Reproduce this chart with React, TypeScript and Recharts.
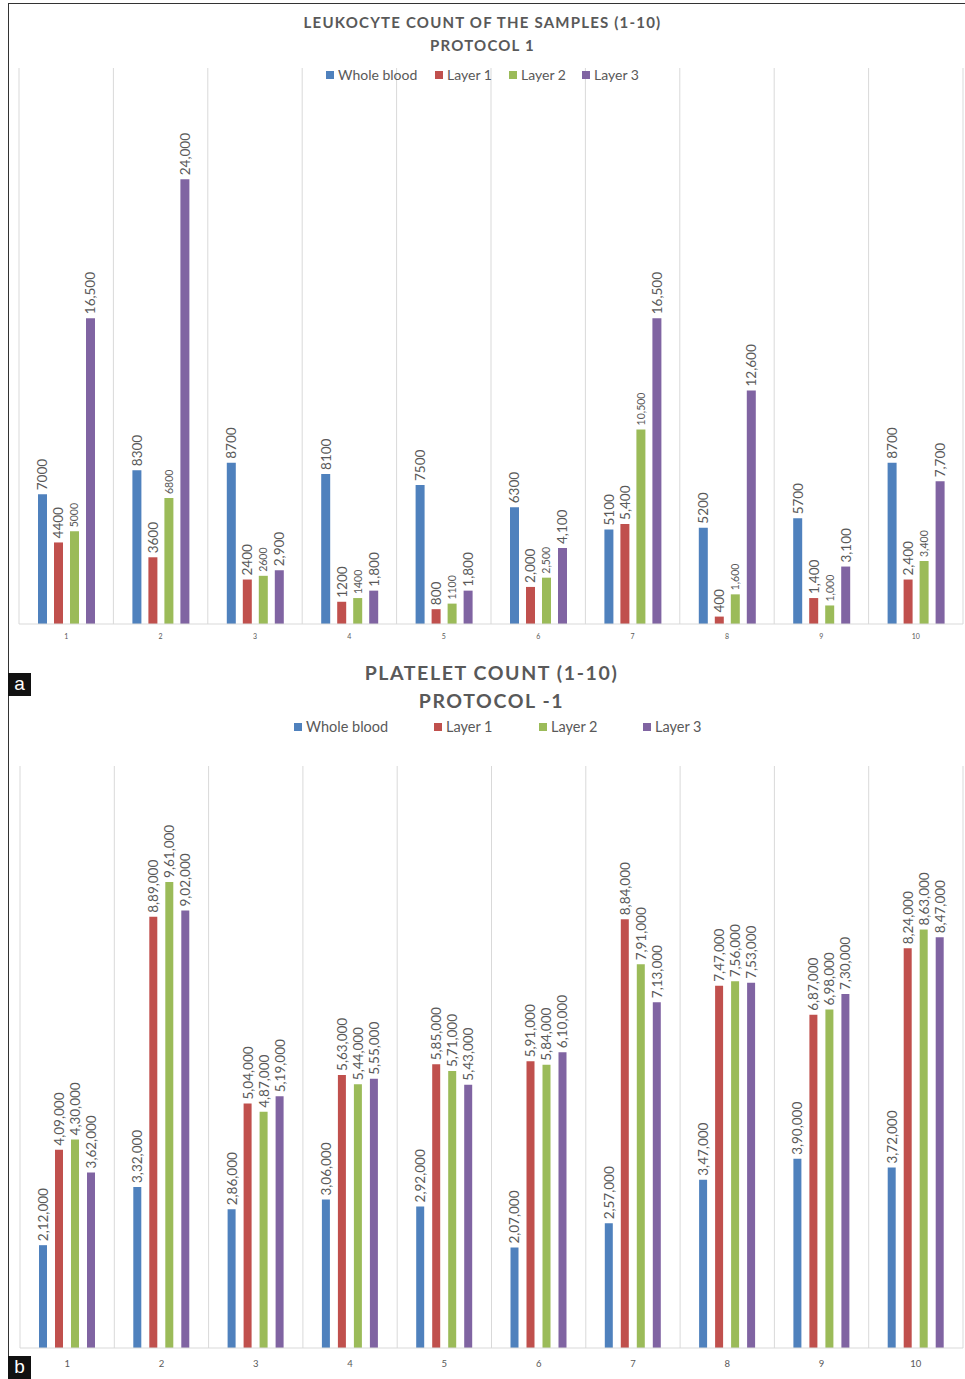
import React from "react";
import { BarChart, Bar, XAxis, YAxis, CartesianGrid, LabelList } from "recharts";

// sample numbers (x axis)
const samples = ["1", "2", "3", "4", "5", "6", "7", "8", "9", "10"];

// leukocyte counts, protocol 1
const wbcWholeBlood = [7000, 8300, 8700, 8100, 7500, 6300, 5100, 5200, 5700, 8700];
const wbcLayer1 = [4400, 3600, 2400, 1200, 800, 2000, 5400, 400, 1400, 2400];
const wbcLayer2 = [5000, 6800, 2600, 1400, 1100, 2500, 10500, 1600, 1000, 3400];
const wbcLayer3 = [16500, 24000, 2900, 1800, 1800, 4100, 16500, 12600, 3100, 7700];

// platelet counts, protocol -1
const pltWholeBlood = [212000, 332000, 286000, 306000, 292000, 207000, 257000, 347000, 390000, 372000];
const pltLayer1 = [409000, 889000, 504000, 563000, 585000, 591000, 884000, 747000, 687000, 824000];
const pltLayer2 = [430000, 961000, 487000, 544000, 571000, 584000, 791000, 756000, 698000, 863000];
const pltLayer3 = [362000, 902000, 519000, 555000, 543000, 610000, 713000, 753000, 730000, 847000];

const seriesNames = ["Whole blood", "Layer 1", "Layer 2", "Layer 3"];
const colors = ["#4F81BD", "#C0504D", "#9BBB59", "#8064A2"];
const keys = ["wholeBlood", "layer1", "layer2", "layer3"];

const FONT = "Lato, 'Open Sans', sans-serif";
const TEXT = "#595959";
const GRID = "#d9d9d9";

const wbcData = samples.map((s, i) => ({
  sample: s,
  wholeBlood: wbcWholeBlood[i],
  layer1: wbcLayer1[i],
  layer2: wbcLayer2[i],
  layer3: wbcLayer3[i],
}));

const pltData = samples.map((s, i) => ({
  sample: s,
  wholeBlood: pltWholeBlood[i],
  layer1: pltLayer1[i],
  layer2: pltLayer2[i],
  layer3: pltLayer3[i],
}));

// the spreadsheet used plain numbers in some cells and thousands separators in others
const wbcPlainUntil = [10, 5, 5, 0];

const withCommas = (n: number) => n.toString().replace(/\B(?=(\d{3})+(?!\d))/g, ",");

// Indian digit grouping: 9,61,000
const indian = (n: number) => {
  const s = n.toString();
  if (s.length <= 3) return s;
  const last3 = s.slice(-3);
  const rest = s.slice(0, -3).replace(/\B(?=(\d{2})+(?!\d))/g, ",");
  return rest + "," + last3;
};

const makeLabel = (fmt: (v: number, i: number) => string, fontSize: number) => (props: any) => {
  const { x, y, width, value, index } = props;
  const cx = Number(x) + Number(width) / 2;
  const ty = Number(y) - 4;
  return (
    <text
      x={cx}
      y={ty}
      transform={`rotate(-90 ${cx} ${ty})`}
      textAnchor="start"
      dominantBaseline="central"
      fontSize={fontSize}
      fill={TEXT}
      fontFamily={FONT}
    >
      {fmt(Number(value), index)}
    </text>
  );
};

const boundaryLines = (props: any) => {
  const { offset } = props;
  return Array.from({ length: samples.length + 1 }, (_, i) => offset.left + (i * offset.width) / samples.length);
};

function Legend({ top, positions, fontSize }: { top: number; positions: number[]; fontSize: number }) {
  return (
    <>
      {seriesNames.map((name, i) => (
        <div
          key={name}
          style={{
            position: "absolute",
            top,
            left: positions[i],
            display: "flex",
            alignItems: "center",
            fontFamily: FONT,
            fontSize,
            color: TEXT,
            whiteSpace: "nowrap",
            lineHeight: 1,
          }}
        >
          <span style={{ width: 8, height: 8, background: colors[i], marginRight: 4, display: "inline-block" }} />
          {name}
        </div>
      ))}
    </>
  );
}

function Title({ top, left, lines, fontSize, spacing, gap }: { top: number; left: number; lines: string[]; fontSize: number; spacing: number; gap: number }) {
  return (
    <div
      style={{
        position: "absolute",
        top,
        left,
        width: 965,
        textAlign: "center",
        fontFamily: FONT,
        fontWeight: 700,
        fontSize,
        letterSpacing: spacing,
        color: TEXT,
        lineHeight: `${gap}px`,
      }}
    >
      {lines.map((l) => (
        <div key={l}>{l}</div>
      ))}
    </div>
  );
}

function PanelTag({ top, letter }: { top: number; letter: string }) {
  return (
    <div
      style={{
        position: "absolute",
        left: 8,
        top,
        width: 23,
        height: 23,
        background: "#111",
        color: "#fff",
        fontFamily: "'Liberation Sans', Arial, sans-serif",
        fontSize: 19,
        lineHeight: "22px",
        textAlign: "center",
      }}
    >
      {letter}
    </div>
  );
}

export default function App() {
  return (
    <div style={{ position: "absolute", left: 0, top: 0, width: 965, height: 1379, background: "#fff", overflow: "hidden" }}>
      {/* frame */}
      <div style={{ position: "absolute", left: 8, top: 3, width: 960, height: 1380, borderTop: "1.5px solid #333", borderLeft: "1.5px solid #333" }} />

      {/* (a) leukocytes */}
      <Title top={11} left={0} lines={["LEUKOCYTE COUNT OF THE SAMPLES (1-10)", "PROTOCOL 1"]} fontSize={15} spacing={1.2} gap={23} />
      <div style={{ position: "absolute", left: 0, top: 0 }}>
        <BarChart width={965} height={650} data={wbcData} margin={{ top: 68, right: 2, bottom: 6, left: 19 }} barSize={9} barGap={7}>
          <CartesianGrid horizontal={false} stroke={GRID} verticalCoordinatesGenerator={boundaryLines} />
          <XAxis
            dataKey="sample"
            tickLine={false}
            axisLine={{ stroke: GRID }}
            tick={{ fontSize: 7, fill: TEXT, fontFamily: FONT, dy: 2 }}
            height={20}
          />
          <YAxis hide domain={[0, 30000]} />
          {keys.map((k, si) => (
            <Bar key={k} dataKey={k} name={seriesNames[si]} fill={colors[si]} isAnimationActive={false}>
              <LabelList
                dataKey={k}
                content={makeLabel(
                  (v, i) => (i < wbcPlainUntil[si] ? String(v) : withCommas(v)),
                  si === 2 ? 10.5 : 13.5
                )}
              />
            </Bar>
          ))}
        </BarChart>
      </div>
      <Legend top={68} positions={[326, 435, 509, 582]} fontSize={14} />
      <PanelTag top={673} letter="a" />

      {/* (b) platelets */}
      <Title top={659} left={9} lines={["PLATELET COUNT (1-10)", "PROTOCOL -1"]} fontSize={19.5} spacing={1.6} gap={28} />
      <Legend top={720} positions={[294, 434, 539, 643]} fontSize={14.5} />
      <div style={{ position: "absolute", left: 0, top: 700 }}>
        <BarChart width={965} height={679} data={pltData} margin={{ top: 66, right: 2, bottom: 11, left: 20 }} barSize={8} barGap={8}>
          <CartesianGrid horizontal={false} stroke={GRID} verticalCoordinatesGenerator={boundaryLines} />
          <XAxis
            dataKey="sample"
            tickLine={false}
            axisLine={{ stroke: GRID }}
            tick={{ fontSize: 9.5, fill: TEXT, fontFamily: FONT, dy: 4 }}
            height={20}
          />
          <YAxis hide domain={[0, 1200000]} />
          {keys.map((k, si) => (
            <Bar key={k} dataKey={k} name={seriesNames[si]} fill={colors[si]} isAnimationActive={false}>
              <LabelList dataKey={k} content={makeLabel((v) => indian(v), 13.5)} />
            </Bar>
          ))}
        </BarChart>
      </div>
      <PanelTag top={1356} letter="b" />
    </div>
  );
}
